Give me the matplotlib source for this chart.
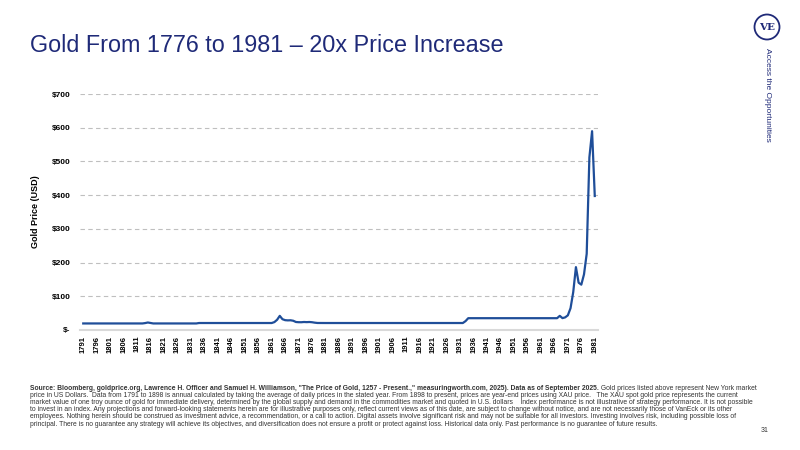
import matplotlib
matplotlib.use("Agg")
import matplotlib.pyplot as plt
from matplotlib.patches import Ellipse

# annual gold price (USD / troy oz), 1791-1981
years = list(range(1791, 1982))
price_1791_1833 = [19.39] * 23 + [20.5, 22.2, 20.9] + [19.39] * 17        # 1791-1833
price_1834_1861 = [20.67] * 28                                              # 1834-1861
price_1862_1878 = [23.4, 30.2, 41.9, 32.0, 29.1, 28.5, 28.8, 27.4, 23.7,
                   23.1, 23.0, 23.7, 23.3, 23.7, 23.0, 21.7, 20.8]          # 1862-1878
price_1879_1932 = [20.67] * 54                                              # 1879-1932
price_1933_1967 = [26.3] + [35.0] * 34                                      # 1933-1967
price_1968_1981 = [41.9, 35.2, 37.4, 43.5, 64.7, 112.3, 186.5, 140.3,
                   134.5, 165.0, 226.0, 512.0, 589.8, 397.5]                # 1968-1981
prices = (price_1791_1833 + price_1834_1861 + price_1862_1878 +
          price_1879_1932 + price_1933_1967 + price_1968_1981)

y_ticks = [0, 100, 200, 300, 400, 500, 600, 700]
y_labels = ["$-", "$100", "$200", "$300", "$400", "$500", "$600", "$700"]
x_ticks = list(range(1791, 1982, 5))

navy = "#1f2a78"
line_col = "#1f4e99"
sans = ["Liberation Sans", "DejaVu Sans"]
plt.rcParams["font.family"] = sans

fig = plt.figure(figsize=(8, 4.5), dpi=100)
ax = fig.add_axes([0.1, 0.2667, 0.6475, 0.5243])

ax.plot(years, prices, color=line_col, lw=1.6, solid_joinstyle="round")
ax.set_xlim(1789.8, 1982.2)
ax.set_ylim(0, 700)
ax.set_yticks(y_ticks)
ax.set_yticklabels(y_labels, fontsize=6, fontweight="bold")
ax.set_xticks(x_ticks)
ax.set_xticklabels([str(x) for x in x_ticks], rotation=90, fontsize=5.5, fontweight="bold")
ax.tick_params(length=0, pad=4)
ax.tick_params(axis="y", pad=7)
ax.grid(axis="y", color="#bfbfbf", ls=(0, (4, 3)), lw=0.8)
for s in ["top", "right", "left"]:
    ax.spines[s].set_visible(False)
ax.spines["bottom"].set_color("#d9d9d9")
ax.spines["bottom"].set_linewidth(1.5)
ax.set_ylabel("Gold Price (USD)", fontsize=6.5, fontweight="bold", labelpad=8)

fig.text(0.0375, 1 - 45 / 450, "Gold From 1776 to 1981 \u2013 20x Price Increase",
         fontsize=16.8, color=navy, va="center", ha="left")

# logo
fig.add_artist(Ellipse((767 / 800, 1 - 27 / 450), 25 / 800, 25 / 450, transform=fig.transFigure,
                       fill=False, edgecolor=navy, lw=1.3))
fig.text(767 / 800, 1 - 27 / 450, "VE", fontsize=7.5, fontweight="bold", family="DejaVu Serif",
         color=navy, ha="center", va="center")
fig.text(767 / 800, 1 - 48 / 450, "Access the Opportunities", rotation=270, fontsize=6,
         color=navy, ha="center", va="top")

# footnote
bold_part = ('Source: Bloomberg, goldprice.org, Lawrence H. Officer and Samuel H. Williamson, '
             '"The Price of Gold, 1257 - Present.," measuringworth.com, 2025). Data as of September 2025.')
notes = [
    " Gold prices listed above represent New York market",
    "price in US Dollars.  Data from 1791 to 1898 is annual calculated by taking the average of daily prices in the stated year. From 1898 to present, prices are year-end prices using XAU price.   The XAU spot gold price represents the current",
    "market value of one troy ounce of gold for immediate delivery, determined by the global supply and demand in the commodities market and quoted in U.S. dollars    Index performance is not illustrative of strategy performance. It is not possible",
    "to invest in an index. Any projections and forward-looking statements herein are for illustrative purposes only, reflect current views as of this date, are subject to change without notice, and are not necessarily those of VanEck or its other",
    "employees. Nothing herein should be construed as investment advice, a recommendation, or a call to action. Digital assets involve significant risk and may not be suitable for all investors. Investing involves risk, including possible loss of",
    "principal. There is no guarantee any strategy will achieve its objectives, and diversification does not ensure a profit or protect against loss. Historical data only. Past performance is no guarantee of future results.",
]
fs = 4.85
y0 = 1 - 388 / 450
t = fig.text(30 / 800, y0, bold_part, fontsize=fs, fontweight="bold",
             color="#333333", va="center")
r = fig.canvas.get_renderer()
bb = t.get_window_extent(r)
fig.text(bb.x1 / (fig.get_figwidth() * fig.dpi), y0, notes[0], fontsize=fs,
         color="#333333", va="center")
for i, line in enumerate(notes[1:], start=1):
    fig.text(30 / 800, y0 - i * 7.2 / 450, line, fontsize=fs,
             color="#333333", va="center")

fig.text(765 / 800, 1 - 430 / 450, "31", fontsize=5, color="#333333", ha="center", va="center")

fig.savefig("out.png", dpi=100)
